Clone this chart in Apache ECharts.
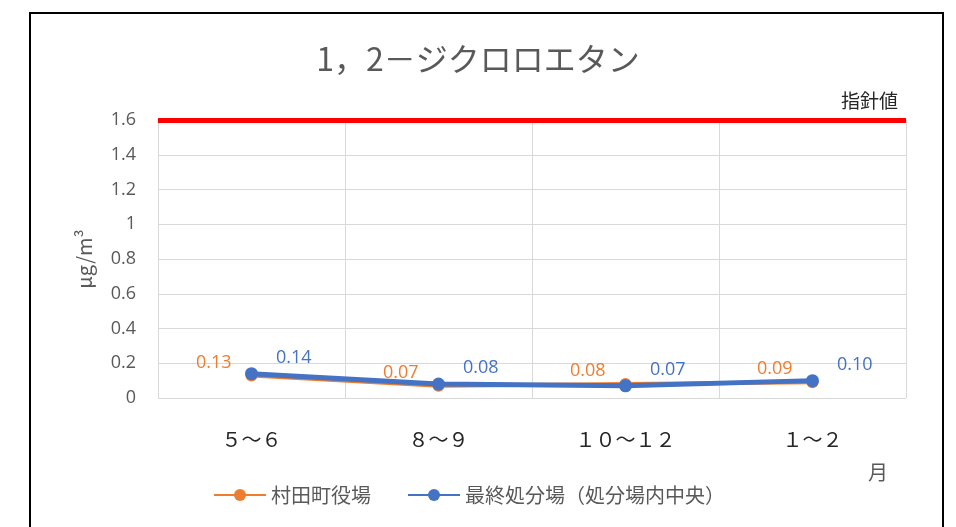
<!DOCTYPE html>
<html><head><meta charset="utf-8">
<script src="https://cdn.jsdelivr.net/npm/echarts@6/dist/echarts.min.js"></script>
<style>html,body{margin:0;padding:0;background:#fff}#c{width:956px;height:527px}</style>
</head><body><div id="c"></div>
<script>
const categories = ['５～６', '８～９', '１０～１２', '１～２'];
const muratamachi = [0.13, 0.07, 0.08, 0.09];
const saishu = [0.14, 0.08, 0.07, 0.10];
const guideline = 1.6;
const yTicks = { min: 0, max: 1.6, interval: 0.2 };

const FONT = '"Noto Sans CJK JP", "Noto Sans", sans-serif';
const NUM = '"Open Sans", "Noto Sans", sans-serif';
const chart = echarts.init(document.getElementById('c'), null, { renderer: 'canvas' });
chart.setOption({
  animation: false,
  textStyle: { fontFamily: FONT },
  title: {
    text: '1，2－ジクロロエタン', left: 'center', top: 38,
    textStyle: { fontSize: 32, fontWeight: 'normal', color: '#595959', fontFamily: FONT }
  },
  graphic: [{
    type: 'rect', shape: { x: 30, y: 13, width: 913, height: 540 },
    style: { fill: 'none', stroke: '#000', lineWidth: 2 }, silent: true
  }],
  grid: { left: 158, right: 50, top: 120, bottom: 129 },
  legend: {
    left: 208, top: 480, itemWidth: 52, itemHeight: 15, itemGap: 36,
    textStyle: { fontSize: 20, color: '#595959', fontFamily: FONT },
    data: ['村田町役場', '最終処分場（処分場内中央）']
  },
  xAxis: {
    type: 'category', data: categories, boundaryGap: true,
    axisLine: { show: false }, axisTick: { show: false },
    splitLine: { show: true, lineStyle: { color: '#d9d9d9', width: 1 } },
    axisLabel: { fontSize: 20, color: '#262626', margin: 31, fontFamily: FONT },
    name: '月', nameLocation: 'end', nameGap: -38,
    nameTextStyle: { fontSize: 20, color: '#595959', verticalAlign: 'top', padding: [64, 0, 0, 0], fontFamily: FONT }
  },
  yAxis: {
    type: 'value', min: yTicks.min, max: yTicks.max, interval: yTicks.interval,
    axisLine: { show: true, lineStyle: { color: '#d9d9d9' } }, axisTick: { show: false },
    splitLine: { lineStyle: { color: '#d9d9d9', width: 1 } },
    axisLabel: { fontSize: 18, color: '#595959', margin: 22, fontFamily: NUM },
    name: 'μg/m³', nameLocation: 'middle', nameGap: 64,
    nameTextStyle: { fontSize: 20, color: '#595959', fontFamily: FONT }
  },
  series: [
    {
      name: '村田町役場', type: 'line', data: muratamachi, z: 2,
      symbol: 'circle', symbolSize: 12,
      lineStyle: { color: '#ED7D31', width: 4 }, itemStyle: { color: '#ED7D31' },
      label: { show: true, position: 'left', distance: 14, offset: [0, -13], color: '#ED7D31', fontSize: 18,
        fontFamily: NUM, formatter: p => p.value.toFixed(2) },
      markLine: {
        silent: true, symbol: 'none',
        lineStyle: { color: '#FF0000', width: 5, type: 'solid' },
        label: { show: true, position: 'insideEndTop', formatter: '指針値', color: '#262626', fontSize: 19,
          distance: [8, 10] },
        data: [{ yAxis: guideline }]
      }
    },
    {
      name: '最終処分場（処分場内中央）', type: 'line', data: saishu, z: 3,
      symbol: 'circle', symbolSize: 13,
      lineStyle: { color: '#4472C4', width: 5 }, itemStyle: { color: '#4472C4' },
      label: { show: true, position: 'right', distance: 18, offset: [0, -16], color: '#4472C4', fontSize: 18,
        fontFamily: NUM, formatter: p => p.value.toFixed(2) }
    }
  ]
});
</script></body></html>
